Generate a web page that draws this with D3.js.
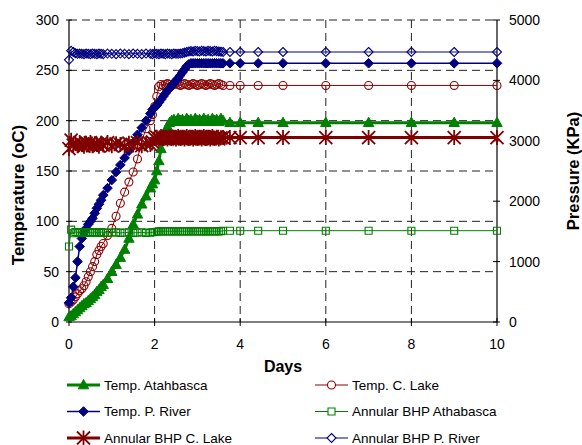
<!DOCTYPE html>
<html><head><meta charset="utf-8">
<script src="https://cdn.jsdelivr.net/npm/d3@7"></script>
<style>body{margin:0;background:#fff}svg{display:block;font-family:"Liberation Sans",Arial,sans-serif}</style>
</head><body><svg id="c" width="582" height="445"></svg>
<script>
const days = [0,0.05,0.1,0.15,0.2,0.25,0.3,0.35,0.4,0.45,0.5,0.55,0.6,0.65,0.7,0.75,0.8,
  0.9,1.0,1.1,1.2,1.3,1.4,1.5,1.6,1.7,1.8,1.9,
  1.95,2.0,2.05,2.1,2.15,2.2,2.25,2.3,2.35,2.4,2.45,2.5,2.55,2.6,2.65,2.7,2.75,2.8,2.85,2.9,2.95,3.0,3.05,3.1,3.15,3.2,3.25,3.3,3.35,3.4,3.45,3.5,3.55,3.6,
  3.76,4,4.42,5,6,7,8,9,10];
const tempAthabasca = [5,6,8,10,12,14,16,18,19,21,23,25,27,30,32,35,37,
  43,50,57,64,72,83,97,107,117,125,133,
  137,141,150,160,172,180,188,194,198,200,
  201,199,202,200, 201,199,202,200, 201,199,202,200, 201,199,202,200, 201,199,202,200, 201,199,202,200,
  198,198,198,198,198,198,198,198,198];
const tempCLake = [18,20,22,25,28,31,33,36,40,45,50,55,60,67,71,75,78,
  86,93,105,118,129,139,149,162,180,192,200,
  206,214,224,234,236,
  235,236,237,236, 235,236,237,236, 235,236,237,236, 235,236,237,236, 235,236,237,236, 235,236,237,236, 235,236,237,236, 235,
  235,235,235,235,235,235,235,235,235];
const tempPRiver = [19,24,35,44,60,75,83,89,93,97,100,103,108,113,117,121,126,
  133,141,149,156,163,170,178,186,193,200,207,
  211,213,215,218,221,224,227,230,232,235,237,240,242,245,248,251,254,256,257,
  257,257,257,257,257, 257,257,257,257,257, 257,257,257,257,257,
  257,257,257,257,257,257,257,257,257];
const bhpAthabasca = [1250,1530,1470,1490,1480,1475,1490,1480,1475,1490,1480,1475,1490,1480,1475,1490,1480,
  1475,1480,1485,1475,1480,1485,1475,1480,1485,1475,1480,
  1485,1490,1495,1500,
  1505,1500,1505,1500,1505,1500,1505,1500,1505,1500,1505,1500,1505,1500,
  1505,1500,1505,1500,1505,1500,1505,1500,1505,1500,1505,1500,1505,1500,
  1505,1510,
  1512,1512,1512,1512,1512,1512,1512,1512,1512];
const bhpCLake = [2870,3010,2930,2960,2920,2970,2940,2910,2960,2930,2970,2920,2950,2940,2910,2960,2930,
  2970,2920,2950,2940,2910,2960,2930,2970,2920,2950,2940,
  2980,
  3040,3060,3030,3070, 3040,3060,3030,3070, 3040,3060,3030,3070, 3040,3060,3030,3070, 3040,3060,3030,3070, 3040,3060,3030,3070, 3040,3060,3030,3070,
  3040,3060,3030,3050,3053,
  3053,3053,3053,3053,3053,3053,3053,3053,3053];
const bhpPRiver = [4340,4490,4470,4450,4440,4445,4440,4435,4445,4440,4435,4445,4440,4435,4445,4440,4435,
  4445,4440,4435,4445,4440,4435,4445,4440,4435,4445,4440,
  4435,4445,4440,4435,4445,4440,4435,4445,4440,4435,4445,4440,4440,4445,4450,4460,4470,4480,4485,
  4480,4490,4485,4480,4490,4485,4480,4490,4485,4480,4490,4485,4480,4475,4470,
  4470,4470,4470,4470,4470,4470,4470,4470,4470];
const xTicks = [0,2,4,6,8,10];
const yLeftTicks = [0,50,100,150,200,250,300];
const yRightTicks = [0,1000,2000,3000,4000,5000];
const seriesNames = ["Temp. Atahbasca","Temp. C. Lake","Temp. P. River","Annular BHP Athabasca","Annular BHP  C. Lake","Annular BHP P. River"];

const svg = d3.select("#c");
const L=69,R=497,T=20,B=322;
const x = d3.scaleLinear().domain([0,10]).range([L,R]);
const yL = d3.scaleLinear().domain([0,300]).range([B,T]);
const yR = d3.scaleLinear().domain([0,5000]).range([B,T]);

// grid
const g = svg.append("g");
xTicks.filter(d=>d>0&&d<10).forEach(d=>g.append("line").attr("x1",x(d)).attr("x2",x(d)).attr("y1",T).attr("y2",B).attr("stroke","#222").attr("stroke-dasharray","8,5").attr("stroke-width",1));
yLeftTicks.filter(d=>d>0).forEach(d=>g.append("line").attr("x1",L).attr("x2",R).attr("y1",yL(d)).attr("y2",yL(d)).attr("stroke","#222").attr("stroke-dasharray","8,5").attr("stroke-width",1));

// axes
const ax = svg.append("g").attr("font-size",14).attr("fill","#000");
ax.append("line").attr("x1",L).attr("x2",L).attr("y1",T).attr("y2",B).attr("stroke","#000").attr("stroke-width",1.2);
ax.append("line").attr("x1",R).attr("x2",R).attr("y1",T).attr("y2",B).attr("stroke","#000").attr("stroke-width",1.2);
ax.append("line").attr("x1",L).attr("x2",R).attr("y1",B).attr("y2",B).attr("stroke","#000").attr("stroke-width",1.2);
yLeftTicks.forEach(d=>{
  ax.append("line").attr("x1",L-3).attr("x2",L+3).attr("y1",yL(d)).attr("y2",yL(d)).attr("stroke","#000");
  ax.append("text").attr("x",L-10).attr("y",yL(d)).attr("dy","0.35em").attr("text-anchor","end").text(d);
});
yRightTicks.forEach(d=>{
  ax.append("line").attr("x1",R-4).attr("x2",R+3).attr("y1",yR(d)).attr("y2",yR(d)).attr("stroke","#000");
  ax.append("text").attr("x",R+12).attr("y",yR(d)).attr("dy","0.35em").attr("text-anchor","start").text(d);
});
xTicks.forEach(d=>{
  ax.append("line").attr("x1",x(d)).attr("x2",x(d)).attr("y1",B-4).attr("y2",B+4).attr("stroke","#000");
  ax.append("text").attr("x",x(d)).attr("y",349).attr("text-anchor","middle").text(d);
});
svg.append("text").attr("x",(L+R)/2).attr("y",372).attr("text-anchor","middle").attr("font-size",16).attr("font-weight","bold").text("Days");
svg.append("text").attr("transform",`translate(24,195) rotate(-90)`).attr("text-anchor","middle").attr("font-size",17).attr("font-weight","bold").text("Temperature (oC)");
svg.append("text").attr("transform",`translate(579,171) rotate(-90)`).attr("text-anchor","middle").attr("font-size",16.5).attr("font-weight","bold").text("Pressure (KPa)");

// markers
const mk = {
  tri: "M0,-5.5L5.2,3.8L-5.2,3.8Z",
  circ: d3.symbol(d3.symbolCircle, 50)(),
  dia: "M0,-4.8L4.8,0L0,4.8L-4.8,0Z",
  sq: "M-3.5,-3.5H3.5V3.5H-3.5Z",
  ast: "M0,-7.5V7.5M-6.5,-6.5L6.5,6.5M-6.5,6.5L6.5,-6.5",
  odia: "M0,-4.5L4.5,0L0,4.5L-4.5,0Z"
};
const series = [
  {name:seriesNames[0], vals:tempAthabasca, y:yL, color:"#008000", lw:3, m:mk.tri, fill:true, mw:1},
  {name:seriesNames[1], vals:tempCLake, y:yL, color:"#8b0000", lw:1, m:mk.circ, fill:false, mw:1.1},
  {name:seriesNames[2], vals:tempPRiver, y:yL, color:"#000080", lw:1.5, m:mk.dia, fill:true, mw:1},
  {name:seriesNames[3], vals:bhpAthabasca, y:yR, color:"#008000", lw:1, m:mk.sq, fill:false, mw:1.1},
  {name:seriesNames[4], vals:bhpCLake, y:yR, color:"#800000", lw:3, m:mk.ast, fill:false, mw:1.8},
  {name:seriesNames[5], vals:bhpPRiver, y:yR, color:"#000080", lw:1, m:mk.odia, fill:false, mw:1.1}
];
const line = (ys)=>d3.line().x((d,i)=>x(days[i])).y(d=>ys(d));
series.forEach(s=>{
  const gg = svg.append("g");
  gg.append("path").datum(s.vals).attr("d",line(s.y)).attr("fill","none").attr("stroke",s.color).attr("stroke-width",s.lw);
  gg.selectAll("path.m").data(s.vals).join("path").attr("class","m")
    .attr("transform",(d,i)=>`translate(${x(days[i])},${s.y(d)})`)
    .attr("d",s.m).attr("fill",s.fill?s.color:"none").attr("stroke",s.color).attr("stroke-width",s.mw);
});

// legend
const lg = svg.append("g").attr("font-size",13.5);
series.forEach((s,i)=>{
  const col=i%2,row=Math.floor(i/2);
  const x0 = col===0?67:315, yy = 385+row*26.5;
  lg.append("line").attr("x1",x0).attr("x2",x0+33).attr("y1",yy).attr("y2",yy).attr("stroke",s.color).attr("stroke-width",s.lw);
  lg.append("path").attr("transform",`translate(${x0+16.5},${yy})`).attr("d",s.m).attr("fill",s.fill?s.color:"#fff").attr("stroke",s.color).attr("stroke-width",s.mw);
  lg.append("text").attr("x",x0+37).attr("y",yy).attr("dy","0.35em").text(s.name);
});
</script></body></html>
